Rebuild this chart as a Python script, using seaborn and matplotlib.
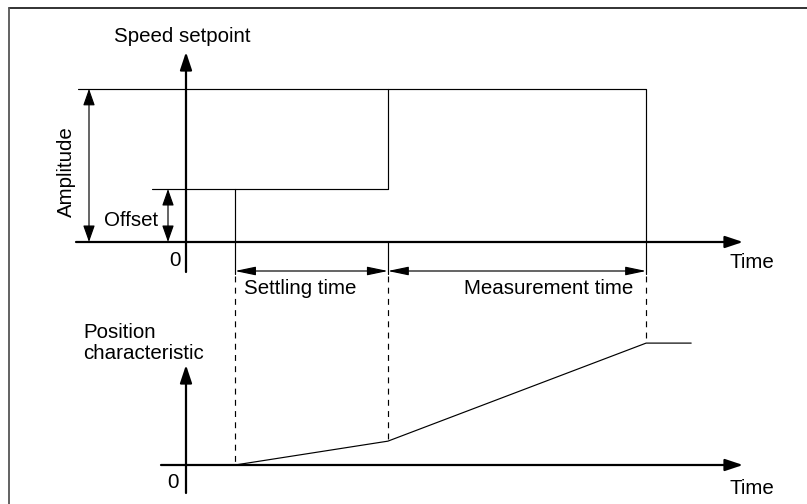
import numpy as np
import pandas as pd
import matplotlib
matplotlib.use("Agg")
import matplotlib.pyplot as plt
import seaborn as sns
from matplotlib.lines import Line2D

sns.set_theme(style="white")
plt.rcParams['font.family'] = ['Liberation Sans', 'DejaVu Sans']

# ---- schematic data (time units / level units) ----
step_time = [1.0, 1.0, 4.12, 4.12, 9.39, 9.39]
step_level = [0.0, 1.0, 1.0, 2.89, 2.89, 0.0]
offset_level = 1.0
amplitude_level = 2.89
settle_start, meas_start, meas_end = 1.0, 4.12, 9.39
pos_time = [1.0, 4.12, 9.39, 10.31]
pos_value = [0.0, 0.45, 2.30, 2.30]

# ---- layout (pixel helpers) ----
W, H = 807, 504
T0, TS = 186, 49      # px of t=0, px per time unit
V0, VS = 242, 53      # px of upper zero line, px per level unit


def X(px):
    return (px - T0) / TS


def Y(py):
    return (V0 - py) / VS


POS_BASE = Y(465)     # zero line of the lower chart, in level units
FS = 14.8
LW_AX = 1.6
LW_THIN = 0.85

fig = plt.figure(figsize=(W / 100, H / 100), dpi=100)
ax = fig.add_axes([0, 0, 1, 1])
ax.set_xlim(X(0), X(W))
ax.set_ylim(Y(H), Y(0))
ax.axis('off')

# ---- signals ----
df_step = pd.DataFrame({'t': step_time, 'v': step_level})
sns.lineplot(data=df_step, x='t', y='v', sort=False, estimator=None,
             color='black', lw=LW_THIN, ax=ax)
df_pos = pd.DataFrame({'t': pos_time, 'v': [POS_BASE + p for p in pos_value]})
sns.lineplot(data=df_pos, x='t', y='v', sort=False, estimator=None,
             color='black', lw=LW_THIN, ax=ax)

# extension lines
ax.plot([X(78), meas_start], [amplitude_level] * 2, color='black', lw=LW_THIN)
ax.plot([X(152), settle_start], [offset_level] * 2, color='black', lw=LW_THIN)

# vertical markers
for t in (settle_start, meas_start, meas_end):
    ax.plot([t, t], [0, Y(274)], color='black', lw=LW_THIN)
    end = POS_BASE + np.interp(t, pos_time, pos_value)
    ax.plot([t, t], [Y(276), end], color='black', lw=LW_THIN,
            linestyle=(0, (5, 4.5)))


def arrow(x0, y0, x1, y1, lw, style='-|>', hl=0.9, hw=0.3):
    ax.annotate('', xy=(x1, y1), xytext=(x0, y0),
                arrowprops=dict(arrowstyle=f'{style},head_length={hl},head_width={hw}',
                                mutation_scale=12, lw=lw, color='black',
                                shrinkA=0, shrinkB=0))


# axes with arrows
arrow(X(76), 0, X(743), 0, LW_AX)
arrow(0, Y(272), 0, Y(52), LW_AX)
arrow(X(161), POS_BASE, X(743), POS_BASE, LW_AX)
arrow(0, Y(493), 0, Y(365), LW_AX)

# dimension arrows
arrow(X(89), 0, X(89), amplitude_level, LW_THIN, '<|-|>', 0.85, 0.3)
arrow(X(168), 0, X(168), offset_level, LW_THIN, '<|-|>', 0.85, 0.3)
arrow(settle_start, Y(271), meas_start, Y(271), LW_THIN, '<|-|>', 1.05, 0.22)
arrow(meas_start, Y(271), meas_end, Y(271), LW_THIN, '<|-|>', 1.05, 0.22)

# texts
tk = dict(fontsize=FS, color='black')
ax.text(X(182), Y(36), 'Speed setpoint', ha='center', va='center', **tk)
ax.text(X(66), Y(172), 'Amplitude', rotation=90, ha='center', va='center', **tk)
ax.text(X(158), Y(220), 'Offset', ha='right', va='center', **tk)
ax.text(X(175), Y(260), '0', ha='center', va='center', **tk)
ax.text(X(244), Y(289), 'Settling time', ha='left', va='center', **tk)
ax.text(X(633), Y(288), 'Measurement time', ha='right', va='center', **tk)
ax.text(X(730), Y(263), 'Time', ha='left', va='center', **tk)
ax.text(X(83), Y(343), 'Position\ncharacteristic', ha='left', va='center',
        linespacing=1.1, **tk)
ax.text(X(173), Y(483), '0', ha='center', va='center', **tk)
ax.text(X(730), Y(488), 'Time', ha='left', va='center', **tk)

# frame (top and left edges)
fig.add_artist(Line2D([9 / W, 1], [1 - 8 / H, 1 - 8 / H], transform=fig.transFigure,
                      color='#222222', lw=1.3))
fig.add_artist(Line2D([9 / W, 9 / W], [1 - 8 / H, 0], transform=fig.transFigure,
                      color='#555555', lw=1.3))

fig.savefig('out.png', dpi=100)
